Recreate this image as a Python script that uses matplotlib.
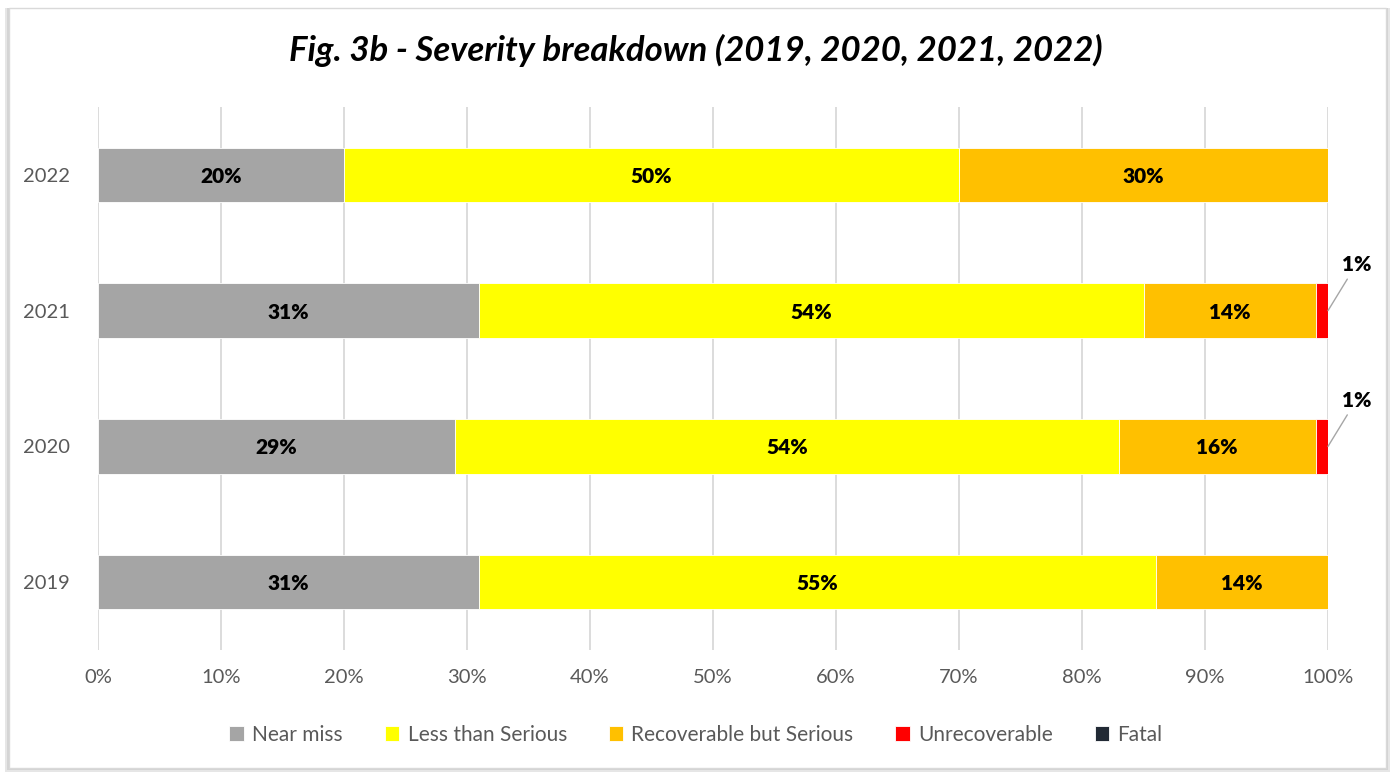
import matplotlib
matplotlib.use("Agg")
import matplotlib.pyplot as plt
from matplotlib.patches import Rectangle
import numpy as np

plt.rcParams["font.family"] = ["Lato", "DejaVu Sans"]

years = ["2019", "2020", "2021", "2022"]
categories = ["Near miss", "Less than Serious", "Recoverable but Serious",
              "Unrecoverable", "Fatal"]
near_miss = [31, 29, 31, 20]
less_serious = [55, 54, 54, 50]
recoverable = [14, 16, 14, 30]
unrecoverable = [0, 1, 1, 0]
fatal = [0, 0, 0, 0]
series = [near_miss, less_serious, recoverable, unrecoverable, fatal]
colors = ["#A5A5A5", "#FFFF00", "#FFC000", "#FF0000", "#222A35"]

fig = plt.figure(figsize=(13.92, 7.74), dpi=100)

# chart frame with a soft shadow
W, H = 1392, 774
for k, (off, c) in enumerate([(4, "#e6e6e6"), (2, "#d4d4d4")]):
    fig.patches.append(Rectangle(((9 - off) / W, (6 - off) / H), 1377 / W + 2 * off / W,
                                 760 / H + off / H, transform=fig.transFigure,
                                 facecolor=c, edgecolor="none", zorder=-3 + k))
fig.patches.append(Rectangle((9 / W, 6 / H), 1377 / W, 760 / H, transform=fig.transFigure,
                             facecolor="white", edgecolor="#d9d9d9", lw=1, zorder=-1))

ax = fig.add_axes([98 / W, 1 - 650 / H, 1230 / W, 543 / H])
ax.set_facecolor("none")

y = np.arange(len(years))
left = np.zeros(len(years))
for vals, col, name in zip(series, colors, categories):
    vals = np.array(vals, dtype=float)
    bars = ax.barh(y, vals, left=left, height=0.4, color=col, edgecolor="white",
                   linewidth=0.6, label=name, zorder=2)
    for i, (b, v) in enumerate(zip(bars, vals)):
        if v <= 0:
            continue
        if v >= 5:
            ax.text(left[i] + v / 2, y[i], f"{v:.0f}%", ha="center", va="center_baseline",
                    fontsize=15, fontweight="heavy", color="black", zorder=3)
        else:
            # thin slices get their label outside, with a leader line
            xe = left[i] + v
            ax.annotate(f"{v:.0f}%", xy=(xe, y[i]), xytext=(xe + 2.3, y[i] + 0.27),
                        ha="center", va="bottom", fontsize=15, fontweight="heavy",
                        annotation_clip=False, zorder=3,
                        arrowprops=dict(arrowstyle="-", color="#a6a6a6", lw=1,
                                        shrinkA=2, shrinkB=0))
    left += vals

ax.set_xlim(0, 100)
ax.set_ylim(-0.5, 3.5)
ax.set_yticks(y, years)
ax.set_xticks(np.arange(0, 101, 10), [f"{t}%" for t in range(0, 101, 10)])
ax.tick_params(length=0, labelsize=14.5, labelcolor="#595959")
ax.tick_params(axis="x", pad=14)
ax.tick_params(axis="y", pad=20)
ax.grid(axis="x", color="#d9d9d9", lw=1.3, zorder=0)
for s in ax.spines.values():
    s.set_visible(False)

fig.text(0.5, 1 - 50 / H, "Fig. 3b - Severity breakdown (2019, 2020, 2021, 2022)",
         ha="center", va="center", fontsize=25, fontweight="bold", fontstyle="italic")

handles, labels = ax.get_legend_handles_labels()
fig.legend(handles, labels, loc="center", bbox_to_anchor=(0.5, 1 - 735 / H), ncol=5,
           frameon=False, fontsize=15, handlelength=0.7, handleheight=0.7,
           handletextpad=0.4, columnspacing=2.0, labelcolor="#595959")

fig.savefig("out.png", dpi=100)
